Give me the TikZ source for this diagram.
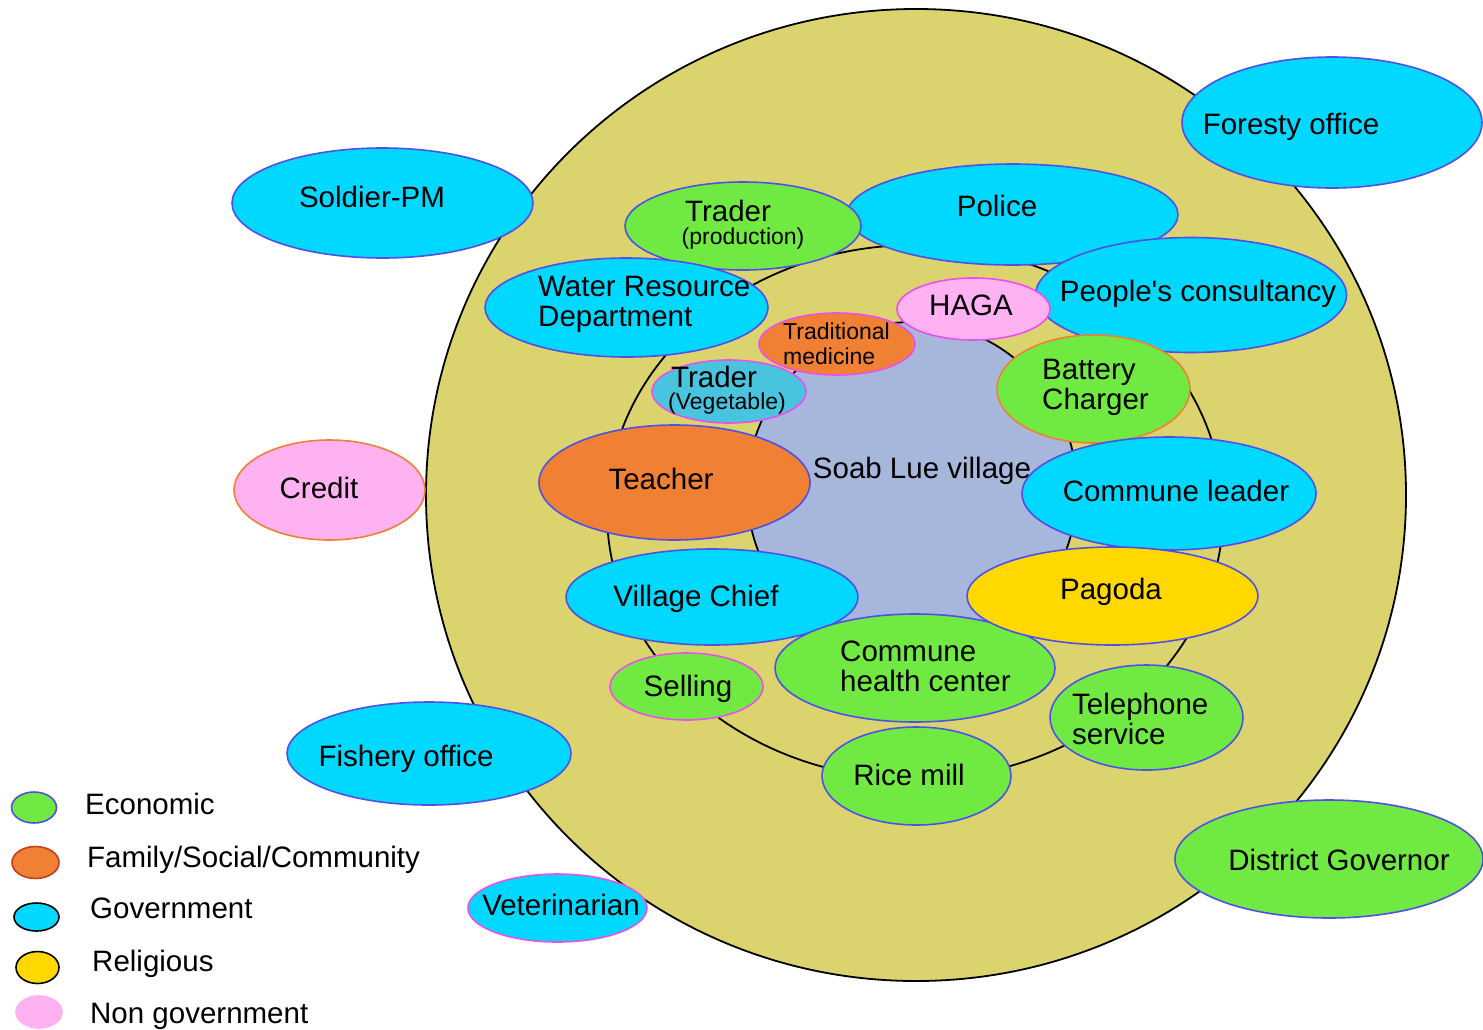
\documentclass[tikz,border=0pt]{standalone}
\usepackage{fontspec}
\setmainfont{Liberation Sans}
\usetikzlibrary{shapes.geometric}

\definecolor{ringolive}{RGB}{219,212,110}
\definecolor{coreblue}{RGB}{167,183,219}
\definecolor{govcyan}{RGB}{0,216,255}
\definecolor{econgreen}{RGB}{112,234,66}
\definecolor{famorange}{RGB}{240,128,52}
\definecolor{relyellow}{RGB}{255,216,0}
\definecolor{ngopink}{RGB}{255,178,242}
\definecolor{vegcyan}{RGB}{72,196,222}
\definecolor{rimblue}{RGB}{80,80,232}
\definecolor{rimpink}{RGB}{236,80,236}
\definecolor{rimorange}{RGB}{240,128,52}
\definecolor{rimred}{RGB}{200,60,24}

\newcommand\mapfont{\fontsize{29.5}{30}\selectfont}
\newcommand\mapsmall{\fontsize{23}{25}\selectfont}

\tikzset{
  blob/.style={ellipse, draw=rimblue, line width=1.6pt, inner sep=0pt},
  econ/.style={blob, fill=econgreen},
  fam/.style={blob, fill=famorange},
  gov/.style={blob, fill=govcyan},
  relig/.style={blob, fill=relyellow},
  ngo/.style={blob, fill=ngopink},
  txt/.style={font=\mapfont, inner sep=0pt, anchor=base},
  small/.style={font=\mapsmall, inner sep=0pt, anchor=base},
}

\begin{document}
\begin{tikzpicture}[x=1pt, y=-1pt]
  \useasboundingbox (0,0) rectangle (1483,1029);

  % rings round the village
  \node[ellipse, draw, line width=1.8pt, fill=ringolive, minimum width=980pt, minimum height=972pt, inner sep=0pt] (outer) at (916,495) {};
  \node[ellipse, draw, line width=1.8pt, minimum width=616pt, minimum height=534pt, inner sep=0pt] (middle) at (915,512) {};
  \node[ellipse, draw, line width=1.8pt, fill=coreblue, minimum width=330pt, minimum height=336pt, inner sep=0pt] (core) at (912,490) {};
  \node[txt] (village) at (922,478.5) {Soab Lue village};

  % outside the rings
  \node[gov, minimum width=301pt, minimum height=110pt] (soldier) at (382.5,203) {};
  \node[txt] (soldier-t) at (372,207.5) {Soldier-PM};
  \node[gov, minimum width=300pt, minimum height=131pt] (forest) at (1332,122.5) {};
  \node[txt] (forest-t) at (1291,134.5) {Foresty office};
  \node[ngo, draw=rimorange, minimum width=191pt, minimum height=100pt] (credit) at (329.5,490) {};
  \node[txt] (credit-t) at (319,498.5) {Credit};

  % outer ring
  \node[gov, minimum width=331pt, minimum height=101pt] (police) at (1012.5,214.5) {};
  \node[txt] (police-t) at (997,216.5) {Police};
  \node[econ, minimum width=236pt, minimum height=88pt] (tradeprod) at (743,226) {};
  \node[txt] (tradeprod-t) at (728,221.5) {Trader};
  \node[small] (tradeprod-s) at (743,244) {(production)};
  \node[gov, minimum width=283pt, minimum height=99pt] (water) at (626.5,307.5) {};
  \node[txt, anchor=west, align=left] (water-t) at (538,304) {Water Resource\\Department};
  \node[gov, minimum width=311pt, minimum height=115pt] (people) at (1191,295) {};
  \node[txt] (people-t) at (1198,301.5) {People\textquotesingle s consultancy};
  \node[ngo, draw=rimpink, minimum width=153pt, minimum height=62pt] (haga) at (973.5,309) {};
  \node[txt] (haga-t) at (971,315.5) {HAGA};

  % inner ring
  \node[fam, draw=rimpink, minimum width=156pt, minimum height=62pt] (tradmed) at (837,344) {};
  \node[small, anchor=west, align=left] (tradmed-t) at (783,343.5) {Traditional\\medicine};
  \node[blob, fill=vegcyan, draw=rimpink, minimum width=154pt, minimum height=63pt] (tradeveg) at (729,391.5) {};
  \node[txt] (tradeveg-t) at (714,387.5) {Trader};
  \node[small] (tradeveg-s) at (727,409) {(Vegetable)};
  \node[econ, draw=rimorange, minimum width=193pt, minimum height=108pt] (battery) at (1093.5,389) {};
  \node[txt, anchor=west, align=left] (battery-t) at (1042,387) {Battery\\Charger};
  \node[fam, minimum width=271pt, minimum height=115pt] (teacher) at (674.5,482.5) {};
  \node[txt] (teacher-t) at (661,489.5) {Teacher};
  \node[gov, minimum width=294pt, minimum height=113pt] (leader) at (1169,493.5) {};
  \node[txt] (leader-t) at (1176,501.5) {Commune leader};
  \node[gov, minimum width=292pt, minimum height=96pt] (chief) at (712,597) {};
  \node[txt] (chief-t) at (696,606.5) {Village Chief};
  \node[econ, minimum width=280pt, minimum height=108pt] (health) at (915,668) {};
  \node[txt, anchor=west, align=left] (health-t) at (840,666) {Commune\\health center};
  \node[relig, minimum width=291pt, minimum height=98pt] (pagoda) at (1112.5,596) {};
  \node[txt] (pagoda-t) at (1111,599.5) {Pagoda};
  \node[econ, draw=rimpink, minimum width=153pt, minimum height=67pt] (selling) at (686.5,686.5) {};
  \node[txt] (selling-t) at (688,696.5) {Selling};
  \node[econ, minimum width=193pt, minimum height=105pt] (phone) at (1146.5,717.5) {};
  \node[txt, anchor=west, align=left] (phone-t) at (1072,719) {Telephone\\service};
  \node[econ, minimum width=189pt, minimum height=98pt] (rice) at (916.5,776) {};
  \node[txt] (rice-t) at (909,785.5) {Rice mill};

  % lower outside
  \node[gov, minimum width=284pt, minimum height=103pt] (fishery) at (429,753.5) {};
  \node[txt] (fishery-t) at (406,766.5) {Fishery office};
  \node[econ, minimum width=308pt, minimum height=118pt] (governor) at (1329,859) {};
  \node[txt] (governor-t) at (1339,870.5) {District Governor};
  \node[gov, draw=rimpink, minimum width=179pt, minimum height=68pt] (vet) at (557.5,908) {};
  \node[txt] (vet-t) at (561,915.5) {Veterinarian};

  % legend
  \node[econ, minimum width=45pt, minimum height=31pt] (key-econ) at (34,807.5) {};
  \node[txt, anchor=base west] (key-econ-t) at (85,814.5) {Economic};
  \node[fam, draw=rimred, minimum width=47pt, minimum height=32pt] (key-fam) at (35.5,862.5) {};
  \node[txt, anchor=base west] (key-fam-t) at (87,867.5) {Family/Social/Community};
  \node[gov, draw=black, minimum width=45pt, minimum height=28pt] (key-gov) at (36.5,917) {};
  \node[txt, anchor=base west] (key-gov-t) at (90,918.5) {Government};
  \node[relig, draw=black, minimum width=43pt, minimum height=32pt] (key-relig) at (37.5,967.5) {};
  \node[txt, anchor=base west] (key-relig-t) at (92,971.5) {Religious};
  \node[ngo, draw=ngopink, minimum width=46pt, minimum height=32pt] (key-ngo) at (39,1012) {};
  \node[txt, anchor=base west] (key-ngo-t) at (90,1023.5) {Non government};
\end{tikzpicture}
\end{document}
